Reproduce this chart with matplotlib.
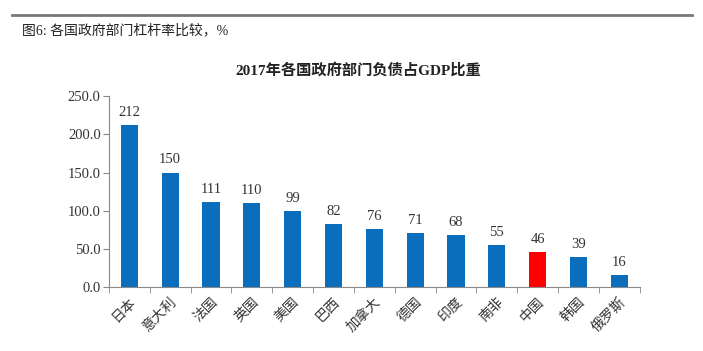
import matplotlib.pyplot as plt
from matplotlib.lines import Line2D
import numpy as np

countries = ['日本', '意大利', '法国', '英国', '美国', '巴西', '加拿大', '德国',
             '印度', '南非', '中国', '韩国', '俄罗斯']
debt_ratio = [212, 150, 111, 110, 99, 82, 76, 71, 68, 55, 46, 39, 16]
yticks = [0, 50, 100, 150, 200, 250]

cjk = ['Liberation Serif', 'Noto Sans CJK SC', 'DejaVu Sans']
plt.rcParams['font.family'] = cjk

fig = plt.figure(figsize=(7.03, 3.51), dpi=100)
ax = fig.add_axes([0.155, 0.182, 0.755, 0.5442])

x = np.arange(len(countries))
colors = ['#FF0000' if c == '中国' else '#0A6EBD' for c in countries]
ax.bar(x, debt_ratio, width=0.42, color=colors)
for xi, v in zip(x, debt_ratio):
    ax.text(xi, v + 8, str(v), ha='center', va='bottom', fontsize=10.5, color='#333333')

ax.set_xlim(-0.5, len(countries) - 0.5)
ax.set_ylim(0, 250)
ax.set_yticks(yticks)
ax.set_yticklabels([f'{t:.1f}' for t in yticks], fontsize=10.5, color='#333333')
ax.set_xticks(x)
ax.set_xticklabels(countries, rotation=45, ha='right', rotation_mode='anchor',
                   fontsize=10, color='#333333')
ax.tick_params(axis='x', which='major', length=0, pad=6)
ax.set_xticks(np.arange(len(countries) + 1) - 0.5, minor=True)
ax.tick_params(axis='x', which='minor', length=4, color='#888888')
ax.tick_params(axis='y', length=4, color='#888888', pad=2)
for s in ['top', 'right']:
    ax.spines[s].set_visible(False)
for s in ['left', 'bottom']:
    ax.spines[s].set_color('#888888')

fig.add_artist(Line2D([12 / 703, 692 / 703], [1 - 15 / 351, 1 - 15 / 351],
                      color='#777777', linewidth=2))
fig.text(22 / 703, 1 - 30 / 351, '图6: 各国政府部门杠杆率比较，%', fontsize=10,
         va='center', ha='left', color='#222222')
fig.text(358 / 703, 1 - 70 / 351, '2017年各国政府部门负债占GDP比重', fontsize=11,
         fontweight='bold', va='center', ha='center', color='#222222')

fig.savefig('out.png', dpi=100)
